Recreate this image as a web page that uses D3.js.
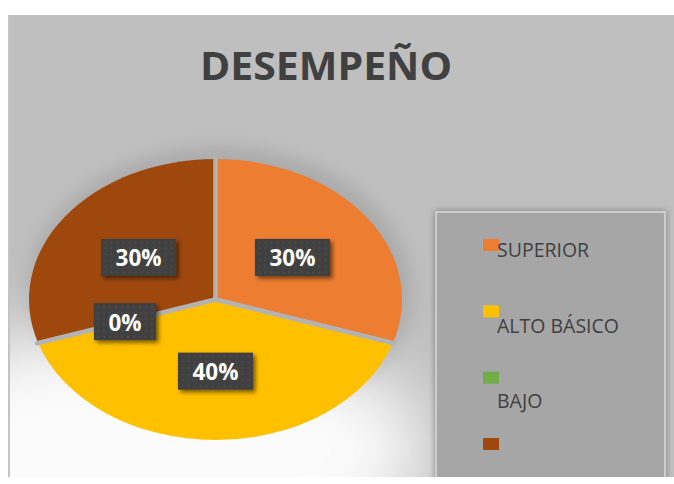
<!DOCTYPE html>
<html>
<head>
<meta charset="utf-8">
<script src="https://cdn.jsdelivr.net/npm/d3@7"></script>
<style>
  html, body { margin: 0; padding: 0; background: #ffffff; }
  svg { display: block; }
</style>
</head>
<body>
<svg id="chart" width="674" height="484"></svg>
<script>
const title = "DESEMPEÑO";
const categories = ["SUPERIOR", "ALTO BÁSICO", "BAJO", ""];
const values = [30, 40, 0, 30];
const colors = ["#ED7D31", "#FFC000", "#70AD47", "#9E480E"];

const svg = d3.select("#chart");
const area = {x: 8, y: 15, w: 666, h: 462};
const cx = 215.5, cy = 299.5, rx = 186.5, ry = 140.5;

const defs = svg.append("defs");
defs.append("clipPath").attr("id", "areaClip")
  .append("rect").attr("x", area.x).attr("y", area.y).attr("width", area.w).attr("height", area.h);
const fb = defs.append("filter").attr("id", "blurBig").attr("x", "-50%").attr("y", "-50%").attr("width", "200%").attr("height", "200%");
fb.append("feGaussianBlur").attr("stdDeviation", 38);
const fm = defs.append("filter").attr("id", "blurMid").attr("x", "-50%").attr("y", "-50%").attr("width", "200%").attr("height", "200%");
fm.append("feGaussianBlur").attr("stdDeviation", 9);
const fs = defs.append("filter").attr("id", "boxShadow").attr("x", "-30%").attr("y", "-30%").attr("width", "160%").attr("height", "160%");
fs.append("feDropShadow").attr("dx", 2.5).attr("dy", 2.5).attr("stdDeviation", 2).attr("flood-color", "#000").attr("flood-opacity", 0.55);
const fl = defs.append("filter").attr("id", "legShadow").attr("x", "-20%").attr("y", "-20%").attr("width", "140%").attr("height", "140%");
fl.append("feDropShadow").attr("dx", 0).attr("dy", 0).attr("stdDeviation", 3).attr("flood-color", "#000").attr("flood-opacity", 0.35);
const pat = defs.append("pattern").attr("id", "dots").attr("patternUnits", "userSpaceOnUse").attr("width", 6).attr("height", 6);
pat.append("rect").attr("width", 6).attr("height", 6).attr("fill", "#404040");
pat.append("circle").attr("cx", 3).attr("cy", 3).attr("r", 1).attr("fill", "#4c4c4c");

// chart area background
const bg = svg.append("g").attr("clip-path", "url(#areaClip)");
bg.append("rect").attr("x", area.x).attr("y", area.y).attr("width", area.w).attr("height", area.h).attr("fill", "#bfbfbf");
bg.append("ellipse").attr("cx", cx + 4).attr("cy", cy - 6).attr("rx", rx + 6).attr("ry", ry + 6)
  .attr("fill", "#9a9a9a").attr("opacity", 0.55).attr("filter", "url(#blurMid)");
bg.append("ellipse").attr("cx", 150).attr("cy", 450).attr("rx", 280).attr("ry", 125)
  .attr("fill", "#ffffff").attr("opacity", 0.95).attr("filter", "url(#blurBig)");
bg.append("line").attr("x1", area.x + 1).attr("x2", area.x + 1).attr("y1", area.y).attr("y2", area.y + area.h)
  .attr("stroke", "#c4c4c4").attr("stroke-width", 2);

// title
svg.append("text").attr("x", 326).attr("y", 80).attr("text-anchor", "middle")
  .attr("font-family", "'Open Sans', sans-serif").attr("font-weight", 700).attr("font-size", 40)
  .attr("fill", "#404040").attr("textLength", 252).attr("lengthAdjust", "spacingAndGlyphs")
  .text(title);

// pie
const data = categories.map((c, i) => ({name: c, value: values[i], color: colors[i]}));
const pie = d3.pie().value(d => d.value).sort(null);
const arcs = pie(data);
const arc = d3.arc().innerRadius(0).outerRadius(ry);
const labelArc = d3.arc().innerRadius(ry * 0.51).outerRadius(ry * 0.51);
const sx = rx / ry;

const pieG = svg.append("g").attr("transform", `translate(${cx},${cy})`);
const slicesG = pieG.append("g").attr("transform", `scale(${sx},1)`);
slicesG.selectAll("path").data(arcs.filter(a => a.data.value > 0)).join("path")
  .attr("d", arc).attr("fill", d => d.data.color);
// separators between slices
pieG.selectAll("line.sep").data(arcs.filter(a => a.data.value > 0)).join("line")
  .attr("class", "sep")
  .attr("x1", 0).attr("y1", 0)
  .attr("x2", d => Math.sin(d.startAngle) * (rx + 1))
  .attr("y2", d => -Math.cos(d.startAngle) * (ry + 1))
  .attr("stroke", "#b3b3b3").attr("stroke-width", 4.5).attr("stroke-linecap", "round");

// data labels
const fmt = d3.format(".0%");
const total = d3.sum(values);
const labG = svg.append("g");
arcs.forEach(a => {
  const c = labelArc.centroid(a);
  const x = cx + c[0] * sx, y = cy + c[1];
  const g = labG.append("g").attr("transform", `translate(${x},${y})`);
  const rect = g.append("rect").attr("fill", "url(#dots)").attr("filter", "url(#boxShadow)");
  const t = g.append("text").attr("text-anchor", "middle").attr("y", 9)
    .attr("font-family", "'Open Sans', sans-serif").attr("font-weight", 700).attr("font-size", 22.5)
    .attr("fill", "#ffffff").text(fmt(a.data.value / total));
  const tw = t.node().getComputedTextLength();
  const bw = tw + 29, bh = 37;
  rect.attr("x", -bw / 2).attr("y", -bh / 2).attr("width", bw).attr("height", bh);
});

// legend
const legG = svg.append("g").attr("clip-path", "url(#areaClip)");
legG.append("rect").attr("x", 436).attr("y", 212).attr("width", 229).attr("height", 280)
  .attr("fill", "#a6a6a6").attr("stroke", "#cdcdcd").attr("stroke-width", 2).attr("filter", "url(#legShadow)");
const legY = d3.scaleLinear().domain([0, categories.length - 1]).range([239, 438]);
const legTextY = d3.scaleLinear().domain([0, 1]).range([257, 332.5]);
categories.forEach((c, i) => {
  legG.append("rect").attr("x", 483).attr("y", legY(i)).attr("width", 16).attr("height", 12).attr("fill", colors[i]);
  legG.append("text").attr("x", 497).attr("y", legTextY(i))
    .attr("font-family", "'Open Sans', sans-serif").attr("font-size", 19.5).attr("fill", "#404040").text(c);
});
</script>
</body>
</html>
